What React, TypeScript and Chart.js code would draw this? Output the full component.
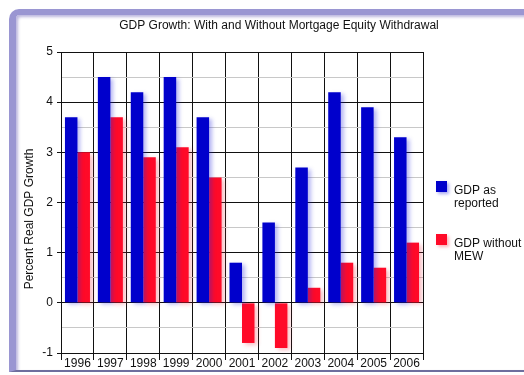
import React, { useEffect, useRef } from "react";
import { Chart, registerables } from "chart.js";

Chart.register(...registerables);

const years = ["1996", "1997", "1998", "1999", "2000", "2001", "2002", "2003", "2004", "2005", "2006"];
const gdpReported = [3.7, 4.5, 4.2, 4.5, 3.7, 0.8, 1.6, 2.7, 4.2, 3.9, 3.3];
const gdpWithoutMEW = [3.0, 3.7, 2.9, 3.1, 2.5, -0.8, -0.9, 0.3, 0.8, 0.7, 1.2];
const seriesNames = ["GDP as reported", "GDP without MEW"];
const legendLines = [["GDP as", "reported"], ["GDP without", "MEW"]];
const titleText = "GDP Growth: With and Without Mortgage Equity Withdrawal";
const yAxisTitle = "Percent Real GDP Growth";
const yMin = -1;
const yMax = 5;

const BLUE = "#0000cc";
const RED = "#ff0a28";
const FONT = "'Liberation Sans', Arial, sans-serif";

const shadowPlugin = {
  id: "barShadow",
  beforeDatasetDraw(chart: any, args: any) {
    const ctx = chart.ctx;
    ctx.save();
    ctx.shadowColor = args.index === 0 ? "rgba(40,40,220,0.35)" : "rgba(240,40,60,0.3)";
    ctx.shadowBlur = 4;
    ctx.shadowOffsetX = 3;
    ctx.shadowOffsetY = 2;
  },
  afterDatasetDraw(chart: any) {
    chart.ctx.restore();
  },
};

const textPlugin = {
  id: "texts",
  afterDraw(chart: any) {
    const ctx = chart.ctx;
    ctx.save();
    ctx.fillStyle = "#111";
    ctx.textAlign = "center";
    ctx.textBaseline = "middle";
    ctx.font = `12px ${FONT}`;
    ctx.fillText(titleText, 279, 26);

    ctx.save();
    ctx.translate(30, 219);
    ctx.rotate(-Math.PI / 2);
    ctx.fillText(yAxisTitle, 0, 0);
    ctx.restore();

    const colors = [BLUE, RED];
    const tops = [181, 234];
    for (let i = 0; i < 2; i++) {
      ctx.save();
      ctx.shadowColor = i === 0 ? "rgba(40,40,220,0.4)" : "rgba(240,40,60,0.35)";
      ctx.shadowBlur = 3;
      ctx.shadowOffsetX = 2;
      ctx.shadowOffsetY = 2;
      ctx.fillStyle = colors[i];
      ctx.fillRect(436, tops[i], 11, 11);
      ctx.restore();
      ctx.textAlign = "left";
      ctx.fillStyle = "#111";
      legendLines[i].forEach((line, j) => {
        ctx.fillText(line, 454, tops[i] + 10 + j * 13);
      });
    }
    ctx.restore();
  },
};

export default function App() {
  const ref = useRef<HTMLCanvasElement>(null);

  useEffect(() => {
    if (!ref.current) return;
    const chart = new Chart(ref.current, {
      type: "bar",
      data: {
        labels: years,
        datasets: [
          { label: seriesNames[0], data: gdpReported, backgroundColor: BLUE, borderWidth: 0 },
          { label: seriesNames[1], data: gdpWithoutMEW, backgroundColor: RED, borderWidth: 0 },
        ],
      },
      options: {
        animation: false,
        responsive: true,
        maintainAspectRatio: false,
        layout: { padding: { left: 0, right: 101, top: 52, bottom: 0 } },
        datasets: { bar: { categoryPercentage: 0.76, barPercentage: 1 } },
        plugins: { legend: { display: false }, title: { display: false }, tooltip: { enabled: false } },
        scales: {
          x: {
            offset: true,
            grid: { offset: true, color: "#111", tickLength: 7, tickColor: "#111" },
            border: { color: "#111" },
            ticks: { color: "#111", font: { family: FONT, size: 12 }, padding: -4, maxRotation: 0 },
            afterFit: (s: any) => { s.height = 22; },
          },
          y: {
            min: yMin,
            max: yMax,
            border: { color: "#111" },
            grid: {
              color: (c: any) => (c.tick && Number.isInteger(c.tick.value) ? "#111" : "#c8c8c8"),
              tickColor: (c: any) => (c.tick && Number.isInteger(c.tick.value) ? "#111" : "rgba(0,0,0,0)"),
              tickLength: 4,
            },
            ticks: {
              stepSize: 0.5,
              autoSkip: false,
              color: "#111",
              padding: 4,
              font: { family: FONT, size: 12 },
              callback: (v: any) => (Number.isInteger(v) ? String(v) : ""),
            },
            afterFit: (s: any) => { s.width = 61; },
          },
        },
      },
      plugins: [shadowPlugin, textPlugin],
    });
    return () => chart.destroy();
  }, []);

  return (
    <div style={{ position: "absolute", left: 0, top: 0, width: 524, height: 375, background: "#fff", overflow: "hidden" }}>
      <div
        style={{
          position: "absolute",
          left: 9,
          top: 9,
          width: 530,
          height: 355,
          borderLeft: "7px solid #9a96d2",
          borderTop: "6px solid #9a96d2",
          borderBottom: "2px solid #6e6e9e",
          borderTopLeftRadius: 10,
          boxShadow: "inset 2px 2px 3px rgba(120,110,190,0.5)",
          background: "#fff",
        }}
      />
      <canvas ref={ref} style={{ position: "absolute", left: 0, top: 0, width: 524, height: 375 }} width={524} height={375} />
    </div>
  );
}
